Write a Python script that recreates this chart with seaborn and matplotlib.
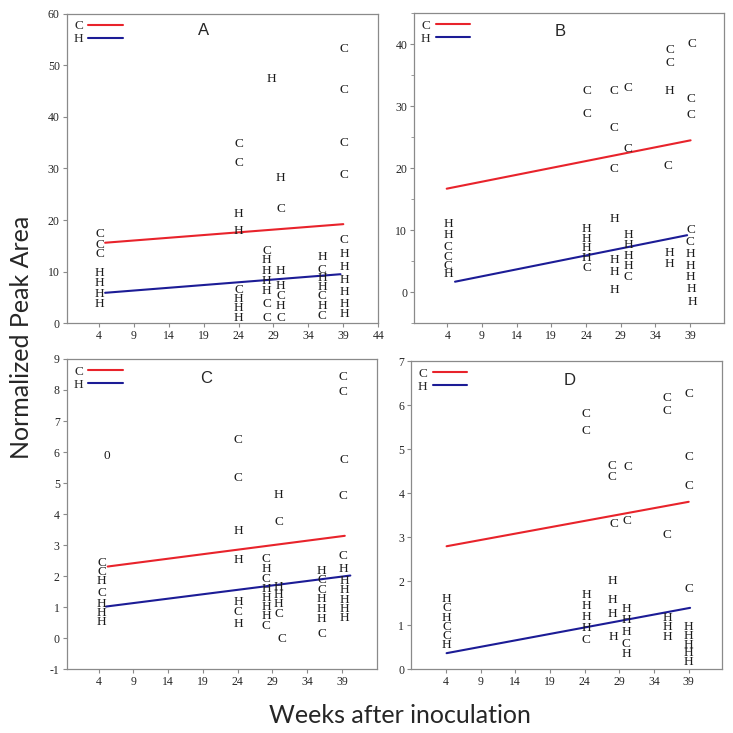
import numpy as np
import pandas as pd
import matplotlib
matplotlib.use("Agg")
import matplotlib.pyplot as plt
import seaborn as sns
from matplotlib.lines import Line2D
from matplotlib.ticker import MultipleLocator

# ---- panel A ----
a_x = [4.1, 4.1, 4.1, 4.1, 4.1, 4.1, 4.1,
       24, 24, 24, 24, 24, 24, 24, 24,
       28.7, 28, 28, 28, 28, 28, 28, 28,
       30, 30, 30, 30, 30, 30, 30,
       36, 36, 36, 36, 36, 36, 36,
       39.1, 39.1, 39.1, 39.1, 39.1, 39.1, 39.1, 39.1, 39.1, 39.1, 39.1]
a_y = [17.2, 15.2, 13.4, 9.7, 7.75, 5.7, 3.7,
       34.7, 31.1, 21.2, 17.8, 6.4, 4.7, 2.9, 1.0,
       47.3, 14.0, 12.2, 10.1, 8.1, 6.2, 3.7, 1.1,
       28.1, 22.1, 10.1, 7.2, 5.3, 3.4, 1.0,
       12.8, 10.3, 8.7, 7.0, 5.3, 3.4, 1.4,
       53.1, 45.2, 35.0, 28.7, 16.2, 13.4, 10.9, 8.3, 6.0, 3.7, 1.7]
a_lab = "CCCHHHH" "CCHHCHHH" "HCHHHHCC" "HCHHCHC" "HCHHCHC" "CCCCCHHHHHH"
a_fit_x = [4.9, 39.0]
a_fit_c = [15.6, 19.2]
a_fit_hx = [4.9, 38.6]
a_fit_h = [5.9, 9.5]

# ---- panel B ----
b_x = [4.1, 4.1, 4.1, 4.1, 4.1, 4.1,
       24.1, 24.1, 24.1, 24.1, 24.1, 24.1, 24.1,
       28.1, 28.1, 28.1, 28.1, 28.1, 28.1, 28.1,
       30.1, 30.1, 30.1, 30.1, 30.1, 30.1, 30.1,
       36.1, 36.1, 36.1, 35.9, 36.1, 36.1,
       39.3, 39.1, 39.1, 39.1, 39.0, 39.1, 39.1, 39.1, 39.2, 39.3]
b_y = [11.0, 9.2, 7.3, 5.7, 4.3, 2.9,
       32.5, 28.7, 10.2, 8.6, 7.1, 5.5, 3.9,
       32.4, 26.5, 19.8, 11.8, 5.2, 3.3, 0.3,
       32.9, 23.1, 9.2, 7.6, 5.9, 4.3, 2.5,
       39.0, 37.0, 32.5, 20.3, 6.4, 4.5,
       40.0, 31.2, 28.6, 10.1, 8.1, 6.2, 4.3, 2.5, 0.5, -1.5]
b_lab = "HHCCCH" "CCHHHHC" "CCCHHHH" "CCHHHHC" "CCHCHH" "CCCCCHHHHH"
b_fit_x = [3.9, 39.1]
b_fit_c = [16.7, 24.5]
b_fit_hx = [5.1, 38.6]
b_fit_h = [1.7, 9.2]

# ---- panel C ----
c_x = [5.2,
       4.4, 4.4, 4.4, 4.4, 4.4, 4.4, 4.4,
       24.1, 24.1, 24.1, 24.1, 24.1, 24.1, 24.1,
       28.1, 28.1, 28.1, 28.1, 28.1, 28.1, 28.1, 28.1,
       29.9, 29.9, 29.9, 29.9, 29.9, 29.9, 30.4,
       36.1, 36.1, 36.1, 36.1, 36.1, 36.1, 36.1,
       39.2, 39.2, 39.3, 39.2, 39.2, 39.2, 39.3, 39.3, 39.3, 39.3, 39.3]
c_y = [5.88,
       2.42, 2.13, 1.83, 1.45, 1.10, 0.81, 0.52,
       6.38, 5.17, 3.46, 2.52, 1.18, 0.83, 0.45,
       2.55, 2.23, 1.91, 1.58, 1.30, 1.02, 0.72, 0.38,
       4.61, 3.73, 1.66, 1.40, 1.11, 0.77, -0.03,
       2.15, 1.86, 1.56, 1.26, 0.95, 0.61, 0.14,
       8.41, 7.93, 5.75, 4.57, 2.65, 2.22, 1.83, 1.54, 1.24, 0.95, 0.64]
c_lab = "0" "CCHCHHH" "CCHHHCH" "CHCHHHHC" "HCHHHCC" "HCCHHHC" "CCCCCHHHHHH"
c_fit_x = [5.3, 39.4]
c_fit_c = [2.31, 3.30]
c_fit_hx = [5.05, 40.2]
c_fit_h = [1.02, 2.02]

# ---- panel D ----
d_x = [4.1, 4.1, 4.1, 4.1, 4.1, 4.1,
       24.2, 24.2, 24.2, 24.2, 24.2, 24.2, 24.2,
       28.0, 28.0, 28.2, 28.0, 28.0, 28.0, 28.2,
       30.2, 30.1, 30.0, 30.0, 30.0, 30.0, 30.0,
       35.9, 35.9, 35.9, 35.9, 35.9, 35.9,
       39.0, 39.0, 39.0, 39.0, 39.0, 39.0, 39.0, 39.0, 39.0]
d_y = [1.60, 1.38, 1.17, 0.96, 0.75, 0.54,
       5.80, 5.40, 1.68, 1.43, 1.18, 0.94, 0.66,
       4.62, 4.37, 3.29, 1.99, 1.57, 1.25, 0.72,
       4.59, 3.36, 1.36, 1.11, 0.83, 0.56, 0.34,
       6.16, 5.87, 3.05, 1.17, 0.96, 0.73,
       6.25, 4.82, 4.17, 1.81, 0.96, 0.74, 0.54, 0.36, 0.15]
d_lab = "HCHCCH" "CCHHHHC" "CCCHHHH" "CCHHHCH" "CCCHHH" "CCCCHHHHH"
d_fit_x = [4.1, 39.0]
d_fit_c = [2.79, 3.80]
d_fit_hx = [4.1, 39.2]
d_fit_h = [0.36, 1.39]

panel_names = ["A", "B", "C", "D"]

sns.set_theme(style="white")
plt.rcParams["font.family"] = ["Liberation Serif", "DejaVu Serif"]
plt.rcParams["axes.unicode_minus"] = False

red = "#e8232b"
blue = "#1c1c96"
gray = "#8a8a8a"

fig = plt.figure(figsize=(7.33, 7.33), dpi=100)
positions = [
    [0.091, 0.559, 0.425, 0.4225],
    [0.565, 0.559, 0.4225, 0.423],
    [0.091, 0.087, 0.423, 0.4233],
    [0.561, 0.0873, 0.424, 0.4202],
]
data = [
    (a_x, a_y, a_lab, a_fit_x, a_fit_c, a_fit_hx, a_fit_h),
    (b_x, b_y, b_lab, b_fit_x, b_fit_c, b_fit_hx, b_fit_h),
    (c_x, c_y, c_lab, c_fit_x, c_fit_c, c_fit_hx, c_fit_h),
    (d_x, d_y, d_lab, d_fit_x, d_fit_c, d_fit_hx, d_fit_h),
]
xlims = [(-0.6, 44.0), (-0.8, 43.9), (-0.6, 44.0), (-1.0, 43.8)]
ylims = [(0, 60), (-5, 45), (-1, 9), (0, 7)]
yticks = [np.arange(0, 61, 10), np.arange(0, 41, 10), np.arange(-1, 10, 1), np.arange(0, 8, 1)]
xticks = [np.arange(4, 45, 5), np.arange(4, 40, 5), np.arange(4, 40, 5), np.arange(4, 40, 5)]
title_pos = [(0.44, 0.946), (0.47, 0.94), (0.45, 0.938), (0.51, 0.938)]

for i, pos in enumerate(positions):
    ax = fig.add_axes(pos)
    xs, ys, labs, fx, fc, fhx, fh = data[i]
    df = pd.DataFrame({"week": xs, "value": ys, "group": list(labs)})

    # fitted lines
    sns.lineplot(x=fx, y=fc, color=red, lw=1.5, ax=ax)
    sns.lineplot(x=fhx, y=fh, color=blue, lw=1.5, ax=ax)

    # letter markers
    for _, row in df.iterrows():
        ax.text(row["week"], row["value"], row["group"], ha="center", va="center",
                fontsize=9.5, color="#1a1a1a")

    ax.set_xlim(*xlims[i])
    ax.set_ylim(*ylims[i])
    ax.set_xticks(xticks[i])
    ax.set_yticks(yticks[i])
    if i == 1:
        ax.yaxis.set_minor_locator(MultipleLocator(5))
    ax.tick_params(axis="both", which="major", labelsize=8.5, length=3, width=0.8,
                   color=gray, direction="out", left=True, bottom=True, pad=2)
    ax.tick_params(axis="y", which="minor", length=2, width=0.6, color=gray, left=True)
    for sp in ax.spines.values():
        sp.set_color(gray)
        sp.set_linewidth(0.9)
    ax.set_xlabel("")
    ax.set_ylabel("")

    handles = [Line2D([], [], color=red, lw=1.5), Line2D([], [], color=blue, lw=1.5)]
    ax.legend(handles, ["C", "H"], loc="upper left", frameon=False, markerfirst=False,
              fontsize=9.5, handlelength=2.6, handletextpad=0.4, labelspacing=0.05,
              borderaxespad=0.2, borderpad=0.3)

    ax.text(title_pos[i][0], title_pos[i][1], panel_names[i], transform=ax.transAxes,
            ha="center", va="center", fontsize=12, family="Liberation Sans")

fig.text(0.545, 0.024, "Weeks after inoculation", ha="center", va="center",
         fontsize=18, family="Lato")
fig.text(0.03, 0.54, "Normalized Peak Area", ha="center", va="center", rotation=90,
         fontsize=18, family="Lato")

fig.savefig("out.png", dpi=100)
